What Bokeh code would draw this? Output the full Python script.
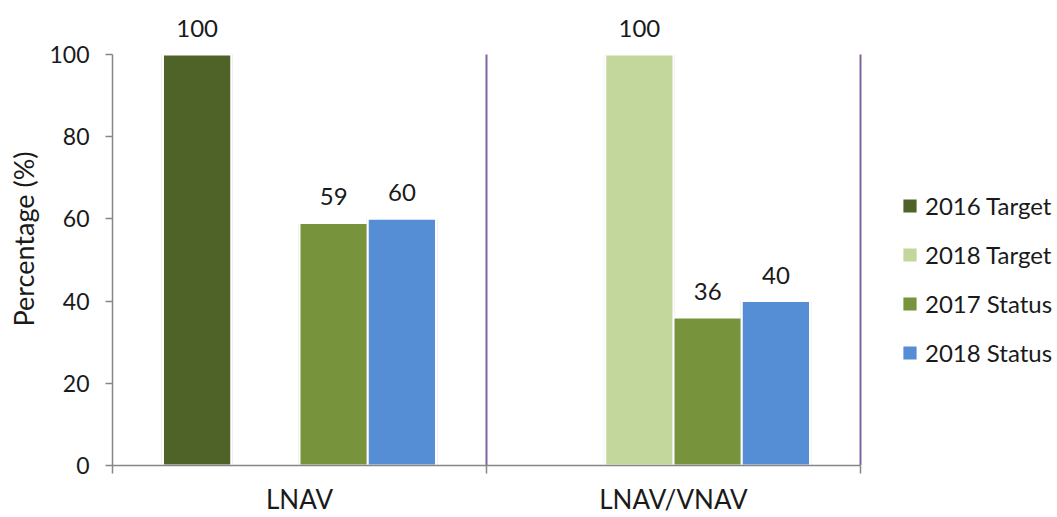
from bokeh.plotting import figure
from bokeh.models import Range1d, FixedTicker, Legend, LegendItem, ColumnDataSource
from bokeh.core.properties import value
from bokeh.embed import file_html
from bokeh.resources import INLINE

# ---- data ----
categories = ["LNAV", "LNAV/VNAV"]
series_names = ["2016 Target", "2018 Target", "2017 Status", "2018 Status"]
target_2016 = [100, None]
target_2018 = [None, 100]
status_2017 = [59, 36]
status_2018 = [60, 40]
series_colors = ["#4F6228", "#C3D69B", "#77933C", "#558ED5"]
y_ticks = [0, 20, 40, 60, 80, 100]

series_values = [target_2016, target_2018, status_2017, status_2018]

FONT = "Lato"
TXT = "#1a1a1a"
AX = "#868686"

W, H = 1057, 517
left, top, bottom = 112, 12, 51
px_per_unit_x = 374.0
px_per_unit_y = 4.12
frame_w = W - left
frame_h = H - top - bottom

p = figure(width=W, height=H, output_backend="svg", toolbar_location=None,
           x_range=Range1d(0, frame_w / px_per_unit_x),
           y_range=Range1d(0, frame_h / px_per_unit_y),
           min_border_left=left, min_border_right=0, min_border_top=top,
           min_border_bottom=bottom)
p.outline_line_color = None
p.grid.visible = False
p.background_fill_color = "white"
p.border_fill_color = "white"

n_groups = len(categories)
n_series = len(series_names)
slot = 0.1825
bar_w = slot
centers = [i + 0.5 for i in range(n_groups)]

legend_items = []
for s, (name, vals, col) in enumerate(zip(series_names, series_values, series_colors)):
    off = (s - (n_series - 1) / 2) * slot
    xs = [c + off for c, v in zip(centers, vals) if v is not None]
    ys = [v for v in vals if v is not None]
    src = ColumnDataSource(dict(x=xs, top=ys, lab=[str(v) for v in ys]))
    # soft shadow
    p.vbar(x="x", top="top", width=bar_w + 3 / px_per_unit_x, bottom=0, source=src,
           fill_color="#9a9a9a", fill_alpha=0.25, line_color=None)
    r = p.vbar(x="x", top="top", width=bar_w, bottom=0, source=src,
               fill_color=col, line_color="white", line_width=2)
    p.text(x="x", y="top", text="lab", source=src, text_align="center",
           text_baseline="alphabetic", y_offset=-26, text_font=value(FONT),
           text_font_size="24px", text_color=TXT)
    legend_items.append(LegendItem(label=name, renderers=[r]))

# vertical separators
sep_x = [float(i + 1) for i in range(n_groups)]
p.segment(x0=sep_x, y0=[0] * n_groups, x1=sep_x, y1=[max(y_ticks)] * n_groups,
          line_color="#8064A2", line_width=2)

# y axis
ya = p.yaxis[0]
ya.ticker = FixedTicker(ticks=y_ticks)
ya.bounds = (0, 100)
ya.axis_line_color = AX
ya.axis_line_width = 1.5
ya.major_tick_line_color = AX
ya.major_tick_line_width = 1.5
ya.major_tick_out = 7
ya.major_tick_in = 0
ya.minor_tick_line_color = None
ya.major_label_standoff = 16
ya.major_label_text_font = FONT
ya.major_label_text_font_size = "23px"
ya.major_label_text_color = TXT
ya.axis_label = "Percentage (%)"
ya.axis_label_text_font = FONT
ya.axis_label_text_font_size = "27px"
ya.axis_label_text_font_style = "normal"
ya.axis_label_text_color = TXT
ya.axis_label_standoff = 6

# x axis
xa = p.xaxis[0]
xa.ticker = FixedTicker(ticks=centers, minor_ticks=[float(i) for i in range(n_groups + 1)])
xa.major_label_overrides = {c: name for c, name in zip(centers, categories)}
xa.bounds = (0, n_groups)
xa.axis_line_color = AX
xa.axis_line_width = 1.5
xa.major_tick_line_color = None
xa.major_tick_out = 0
xa.major_tick_in = 0
xa.minor_tick_line_color = AX
xa.minor_tick_line_width = 1.5
xa.minor_tick_out = 8
xa.minor_tick_in = 0
xa.major_label_standoff = 9
xa.major_label_text_font = FONT
xa.major_label_text_font_size = "26px"
xa.major_label_text_color = TXT

legend = Legend(items=legend_items, location=(788, 98), orientation="vertical",
                glyph_width=19, glyph_height=19, label_height=24, spacing=20,
                label_standoff=6, padding=0, margin=0,
                border_line_color=None, background_fill_alpha=0,
                label_text_font=FONT, label_text_font_size="24px", label_text_color=TXT)
p.add_layout(legend)

open("out.html", "w").write(file_html(p, INLINE))
